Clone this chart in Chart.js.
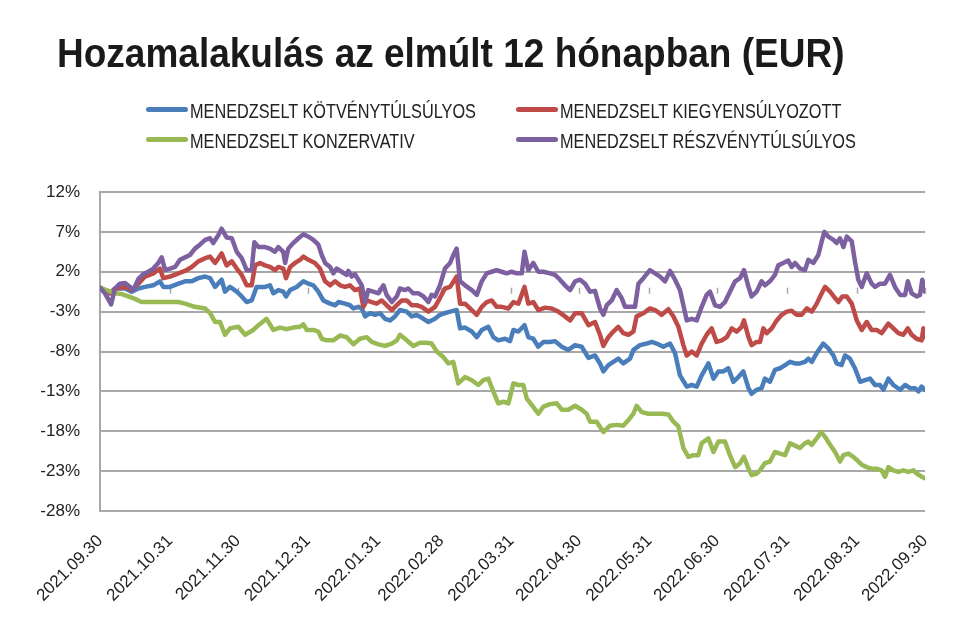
<!DOCTYPE html>
<html>
<head>
<meta charset="utf-8">
<script src="https://cdn.jsdelivr.net/npm/chart.js@4/dist/chart.umd.min.js"></script>
<style>
  html, body { margin: 0; padding: 0; background: #fff; }
  #wrap { position: relative; width: 980px; height: 626px; overflow: hidden; }
  #c { position: absolute; left: 0; top: 0; }
  #title { position: absolute; left: 57px; top: 36px; font: bold 37px 'Liberation Sans', Arial, sans-serif; line-height: 37px; color: #1a1a1a; white-space: nowrap; transform: scaleY(1.08); transform-origin: left bottom; }
  .lg { position: absolute; height: 20px; line-height: 20px; font: 19.5px 'Liberation Sans', Arial, sans-serif; color: #222; white-space: nowrap; }
  .lg .sw { position: absolute; left: 0; top: 7px; width: 42px; height: 5px; border-radius: 3px; }
  .lg .tx { position: absolute; left: 44px; top: 0; transform: scaleX(0.835); transform-origin: left center; }
</style>
</head>
<body>
<div id="wrap">
  <canvas id="c" width="980" height="626"></canvas>
  <div id="title">Hozamalakulás az elmúlt 12 hónapban (EUR)</div>
  <div id="legend"></div>
</div>
<script>
// ---- DATA ----
const seriesNames = [
  'MENEDZSELT KÖTVÉNYTÚLSÚLYOS',
  'MENEDZSELT KIEGYENSÚLYOZOTT',
  'MENEDZSELT KONZERVATIV',
  'MENEDZSELT RÉSZVÉNYTÚLSÚLYOS'
];
// x tick positions: days since 2021.09.30 for each month end
const monthEndDays = [0, 31, 61, 92, 123, 151, 182, 212, 243, 273, 304, 335, 365];
const monthLabels = ['2021.09.30','2021.10.31','2021.11.30','2021.12.31','2022.01.31','2022.02.28','2022.03.31','2022.04.30','2022.05.31','2022.06.30','2022.07.31','2022.08.31','2022.09.30'];
const yTicks = [-28, -23, -18, -13, -8, -3, 2, 7, 12];

// [day since 2021.09.30, return %]
const kotvenyPoints = [[0,0],[4.4,-0.7],[6.6,-0.1],[11.1,-0.1],[14.0,-0.5],[17.0,-0.1],[19.9,0.1],[23.6,0.3],[26.5,0.8],[28.0,0.1],[31.0,0.1],[34.7,0.5],[37.6,0.8],[40.6,0.8],[43.5,1.2],[46.5,1.4],[48.7,1.2],[50.9,0.1],[53.8,1.0],[55.3,-0.5],[57.5,0.1],[60.5,-0.5],[62.7,-1.1],[64.9,-1.8],[67.1,-1.6],[69.3,0.1],[73.0,0.1],[75.2,0.3],[76.7,-0.7],[78.9,-0.3],[81.1,-0.5],[82.3,-1.1],[84.1,-0.3],[87.0,0.1],[90.0,0.8],[92.2,0.5],[94.4,0.3],[96.6,-0.5],[98.8,-1.6],[101.8,-2.0],[104.0,-2.2],[105.5,-1.8],[108.4,-2.0],[110.6,-2.2],[112.1,-2.6],[114.3,-2.4],[115.8,-2.6],[117.3,-3.6],[119.5,-3.2],[121.7,-3.4],[123.9,-3.2],[126.1,-3.9],[128.3,-4.1],[130.5,-3.6],[132.7,-2.8],[135.7,-3.0],[137.9,-3.6],[140.1,-3.4],[143.1,-3.9],[145.3,-4.3],[148.2,-3.9],[150.4,-3.4],[152.6,-3.2],[154.9,-3.0],[157.8,-2.8],[159.3,-5.1],[161.5,-5.0],[164.5,-5.5],[166.7,-6.2],[168.9,-5.3],[171.8,-4.9],[174.0,-6.2],[176.2,-6.6],[179.2,-6.4],[181.4,-6.7],[182.9,-5.3],[185.1,-5.5],[187.8,-4.7],[189.5,-6.2],[191.7,-6.4],[193.9,-7.4],[196.2,-6.8],[199.1,-6.8],[201.3,-6.7],[204.3,-7.4],[207.2,-7.8],[210.2,-7.2],[213.1,-7.4],[216.1,-8.8],[219.0,-8.5],[221.2,-9.5],[222.7,-10.5],[224.9,-9.7],[227.1,-9.3],[229.3,-8.9],[231.5,-9.5],[234.5,-8.9],[236.0,-7.8],[238.9,-7.2],[241.9,-7.0],[244.1,-6.8],[246.3,-7.0],[249.2,-7.4],[252.2,-7.0],[254.4,-8.2],[256.6,-11.0],[259.6,-12.4],[261.8,-12.2],[264.0,-12.4],[266.2,-11.0],[269.2,-9.5],[271.4,-11.4],[273.6,-10.5],[275.8,-10.5],[278.0,-10.1],[280.2,-11.8],[282.4,-11.2],[284.6,-10.5],[286.9,-12.6],[288.3,-13.3],[290.5,-12.8],[292.7,-12.6],[294.2,-11.4],[296.4,-11.8],[298.6,-10.3],[300.9,-10.1],[303.1,-9.7],[305.3,-9.3],[307.5,-9.5],[309.7,-9.5],[311.9,-9.3],[313.4,-8.9],[314.9,-9.3],[317.1,-8.2],[320.0,-7.0],[322.2,-7.6],[324.5,-8.5],[325.9,-9.5],[328.1,-9.7],[329.6,-8.5],[331.8,-8.9],[334.0,-10.1],[336.3,-11.8],[338.5,-11.6],[340.7,-11.4],[342.9,-12.2],[345.1,-12.2],[346.6,-12.8],[348.8,-11.4],[351.0,-12.2],[354.0,-12.8],[356.2,-12.2],[358.4,-12.6],[360.6,-12.6],[362.1,-13.0],[363.5,-12.4],[365,-12.8]];

const kiegyensulyozottPoints = [[0,0],[4.4,-0.7],[6.6,-0.1],[11.1,0.1],[14.0,-0.3],[17.0,0.5],[19.9,1.4],[23.6,1.8],[26.5,2.4],[28.0,1.2],[31.0,1.4],[34.7,1.8],[37.6,2.1],[40.6,2.6],[43.5,3.3],[46.5,3.7],[48.7,3.9],[50.9,3.1],[53.8,4.3],[56.0,2.8],[58.3,3.3],[60.5,2.4],[62.7,1.6],[64.9,0.3],[67.1,0.3],[68.6,2.8],[70.8,3.1],[73.0,2.8],[75.2,2.6],[77.4,2.2],[78.9,2.6],[81.1,2.4],[82.3,1.2],[84.1,2.6],[86.3,3.1],[88.5,3.5],[90.0,3.9],[92.2,3.5],[95.1,3.1],[97.3,2.4],[99.6,0.8],[101.8,0.3],[104.0,0.8],[106.2,0.3],[108.4,0.1],[110.6,0.3],[112.8,-0.3],[115.0,-0.1],[116.5,-2.4],[118.0,-1.6],[120.2,-1.8],[122.4,-2.0],[124.6,-1.6],[126.8,-2.2],[129.1,-2.8],[131.3,-2.2],[133.5,-1.6],[135.7,-1.6],[137.9,-2.2],[140.1,-2.2],[142.3,-2.4],[145.3,-3.0],[148.2,-2.4],[150.4,-1.3],[152.6,-0.1],[154.9,0.1],[157.8,1.4],[159.3,-2.0],[161.5,-2.0],[164.5,-2.8],[166.7,-3.4],[168.9,-2.4],[171.1,-1.8],[173.3,-1.6],[175.5,-2.4],[177.7,-2.4],[180.7,-2.6],[182.9,-1.8],[185.1,-2.0],[187.8,0.1],[189.5,-2.0],[191.7,-1.8],[193.9,-2.8],[196.9,-2.5],[199.8,-2.6],[202.8,-3.0],[205.7,-3.6],[208.0,-4.1],[210.2,-3.2],[213.1,-3.2],[216.1,-4.7],[219.0,-4.3],[221.2,-5.9],[222.7,-7.3],[224.9,-6.2],[227.1,-5.5],[229.3,-4.9],[231.5,-5.7],[233.8,-5.9],[236.0,-5.5],[237.4,-3.6],[240.4,-3.2],[243.3,-2.6],[245.6,-2.8],[248.5,-3.4],[251.5,-2.7],[253.7,-3.6],[255.9,-4.9],[258.1,-7.2],[259.6,-8.5],[261.8,-8.0],[264.0,-8.5],[266.2,-7.0],[268.4,-5.9],[270.6,-5.1],[272.8,-6.8],[275.1,-6.6],[277.3,-6.2],[279.5,-5.1],[281.7,-5.5],[283.9,-4.9],[284.9,-4.1],[286.9,-6.2],[288.3,-7.2],[290.5,-6.8],[292.0,-6.8],[293.5,-5.1],[295.0,-5.7],[297.2,-5.1],[299.4,-4.1],[301.6,-3.4],[303.8,-3.0],[306.0,-2.9],[308.2,-3.4],[310.4,-3.4],[312.7,-2.6],[314.9,-3.0],[317.1,-2.0],[319.3,-0.7],[320.8,0.1],[323.0,-0.5],[325.2,-1.3],[326.7,-1.8],[328.4,-1.1],[330.4,-1.1],[332.6,-2.0],[334.8,-4.1],[337.0,-5.3],[339.2,-4.3],[341.4,-5.3],[343.6,-5.3],[345.8,-5.7],[348.8,-4.5],[351.0,-5.1],[353.2,-5.7],[355.4,-5.9],[357.4,-5.1],[359.1,-5.9],[361.3,-6.4],[363.5,-6.6],[364.3,-5.1],[365,-6.2]];

const konzervativPoints = [[0,0],[6.6,-0.7],[9.6,-0.8],[12.5,-1.1],[15.5,-1.4],[18.4,-1.8],[21.4,-1.8],[27.3,-1.8],[30.2,-1.8],[34.7,-1.8],[37.6,-2.0],[42.0,-2.4],[46.5,-2.6],[48.7,-3.2],[50.9,-4.3],[53.1,-4.3],[55.3,-5.9],[57.5,-5.1],[61.2,-4.9],[64.2,-5.9],[67.8,-5.3],[70.1,-4.7],[73.7,-3.9],[76.7,-5.3],[79.6,-5.0],[82.6,-5.2],[85.5,-5.0],[88.5,-4.9],[90.0,-4.6],[91.5,-5.3],[94.4,-5.3],[96.6,-5.5],[98.1,-6.4],[100.3,-6.6],[103.2,-6.6],[106.2,-6.0],[109.1,-6.2],[112.1,-7.1],[115.0,-6.4],[118.0,-6.2],[120.2,-6.8],[123.2,-7.1],[126.1,-7.3],[129.1,-7.0],[131.3,-6.6],[132.7,-5.9],[135.7,-6.6],[138.6,-7.3],[141.6,-6.9],[144.5,-6.9],[146.7,-7.0],[149.0,-8.0],[151.9,-8.7],[154.1,-9.5],[156.3,-9.3],[158.5,-12.0],[161.5,-11.2],[164.5,-11.6],[167.4,-12.2],[169.6,-11.6],[171.8,-11.4],[174.0,-13.0],[176.2,-14.5],[178.5,-14.3],[180.7,-14.5],[182.9,-12.0],[185.1,-12.2],[187.3,-12.2],[188.8,-13.9],[191.0,-14.7],[193.9,-15.8],[196.2,-14.9],[199.1,-14.6],[202.1,-14.5],[204.3,-15.3],[207.2,-15.3],[210.2,-14.8],[213.1,-15.3],[215.3,-15.8],[216.8,-16.8],[219.7,-16.8],[222.7,-18.1],[225.6,-17.3],[228.6,-17.2],[231.5,-17.3],[233.8,-16.6],[236.0,-15.8],[237.4,-14.8],[239.7,-15.6],[242.6,-15.8],[245.6,-15.8],[248.5,-15.8],[251.5,-15.9],[253.7,-16.8],[255.9,-17.4],[258.1,-20.1],[260.3,-21.2],[262.5,-21.0],[264.7,-21.0],[266.2,-19.5],[269.2,-18.9],[271.4,-20.6],[273.6,-19.3],[276.5,-19.3],[278.7,-21.0],[281.0,-22.5],[283.2,-22.0],[284.9,-21.2],[286.9,-22.7],[288.3,-23.5],[290.5,-23.3],[292.0,-22.9],[294.2,-22.0],[296.4,-21.8],[298.6,-20.6],[300.9,-20.8],[303.1,-21.0],[305.3,-19.5],[307.5,-19.8],[309.7,-20.1],[311.9,-19.5],[313.4,-19.3],[314.9,-19.7],[317.1,-18.9],[319.0,-18.1],[320.8,-18.7],[323.0,-19.7],[325.2,-20.6],[327.4,-21.8],[328.9,-21.0],[331.1,-20.8],[333.3,-21.2],[334.8,-21.6],[337.0,-22.2],[339.2,-22.5],[341.4,-22.7],[343.6,-22.7],[345.8,-22.9],[347.3,-23.7],[348.8,-22.5],[351.0,-22.9],[353.2,-23.1],[355.4,-22.9],[357.6,-23.1],[359.9,-22.9],[361.3,-23.3],[363.5,-23.7],[365,-23.9]];

const reszvenyPoints = [[0,0],[2.2,-0.7],[4.4,-1.8],[4.9,-2.1],[6.6,-0.1],[8.8,0.5],[11.1,0.6],[13.3,0.1],[14.7,-0.3],[17.0,1.1],[19.2,1.7],[21.4,2.0],[23.6,2.4],[25.8,3.1],[27.3,3.8],[28.8,2.2],[31.0,2.4],[33.2,2.6],[35.4,3.5],[37.6,3.8],[39.8,4.1],[42.0,4.9],[44.2,5.4],[46.5,6.0],[48.7,6.2],[50.1,5.6],[52.4,6.6],[53.8,7.4],[56.0,6.3],[58.3,6.2],[60.5,4.5],[62.7,3.7],[64.9,2.2],[67.1,2.2],[68.3,5.7],[70.1,5.1],[73.0,5.1],[75.2,4.9],[77.4,4.5],[78.9,5.1],[81.1,4.5],[81.9,3.1],[83.3,4.9],[85.5,5.6],[87.8,6.2],[90.0,6.7],[92.2,6.4],[94.4,6.0],[96.6,5.4],[98.1,4.1],[99.6,3.1],[101.8,2.6],[103.2,1.8],[104.7,2.4],[106.9,2.0],[109.1,1.6],[109.9,2.1],[111.4,1.4],[112.8,1.7],[114.3,1.0],[115.8,0.3],[117.3,-1.8],[118.7,-0.3],[120.9,-0.5],[123.2,-0.7],[125.4,0.3],[126.8,-0.9],[129.1,-1.8],[131.3,-1.1],[132.7,-0.1],[135.0,-0.3],[136.4,-0.1],[138.6,-0.7],[140.9,-0.7],[143.1,-1.1],[145.3,-1.8],[146.7,-0.9],[148.2,-1.1],[150.4,0.3],[152.6,2.4],[154.9,3.1],[156.3,4.1],[157.8,4.9],[159.3,0.8],[161.5,0.3],[164.5,-0.3],[166.7,-0.9],[168.9,0.8],[171.1,1.8],[173.3,2.0],[175.5,2.2],[177.7,2.0],[179.9,1.8],[182.1,2.0],[184.4,1.8],[186.6,1.8],[187.8,4.5],[189.5,2.2],[191.7,3.1],[193.9,2.0],[196.2,2.0],[199.1,1.8],[201.3,1.6],[203.5,1.0],[205.7,0.3],[208.0,-0.3],[210.2,0.8],[212.4,1.0],[214.6,0.5],[216.8,-0.5],[219.0,-0.4],[221.2,-2.6],[222.7,-3.4],[224.2,-2.2],[226.4,-1.6],[228.6,-0.3],[230.8,-1.3],[232.3,-2.4],[234.5,-2.4],[236.7,-2.4],[238.2,0.5],[240.4,1.2],[243.3,2.2],[245.6,1.8],[247.8,1.4],[250.0,0.8],[252.2,2.1],[254.4,1.0],[256.6,-0.3],[258.1,-2.2],[259.6,-4.1],[261.8,-3.9],[264.0,-4.1],[266.2,-2.4],[268.4,-0.9],[269.9,-0.5],[272.1,-2.2],[274.3,-2.4],[276.5,-1.8],[278.7,-0.5],[281.0,0.8],[283.2,1.2],[284.9,2.2],[286.9,0.1],[288.3,-1.1],[290.5,-0.5],[292.7,0.8],[294.2,0.3],[296.4,0.8],[298.6,1.6],[300.1,2.8],[302.3,3.1],[304.5,3.4],[306.0,2.6],[307.5,3.1],[309.7,2.4],[311.9,2.2],[313.4,3.5],[315.6,3.1],[317.8,4.1],[319.3,5.8],[320.5,7.0],[322.2,6.4],[324.5,6.0],[325.9,5.6],[327.4,6.2],[328.9,5.1],[330.4,6.4],[332.6,5.8],[334.0,3.3],[335.5,1.0],[337.0,0.1],[339.2,1.8],[341.4,0.5],[342.9,0.1],[345.1,0.5],[347.3,0.5],[349.5,1.6],[351.7,0.1],[354.0,-0.9],[356.2,-0.9],[357.4,0.8],[359.1,-0.7],[361.3,-1.1],[362.8,-0.9],[363.8,1.0],[365,-0.5]];

// ---- STYLE ----
const seriesColors = ['#4a7ebb', '#be4b48', '#98b954', '#7d60a0'];
const seriesPoints = [kotvenyPoints, kiegyensulyozottPoints, konzervativPoints, reszvenyPoints];
const drawOrder = [3, 2, 1, 0]; // later series drawn on top
const gridColor = '#a8a8a8';
const tickFont = { family: "'Liberation Sans', Arial, sans-serif", size: 17 };

// HTML legend (2 columns)
const legendPos = [[146, 100], [516, 100], [146, 130], [516, 130]];
const legendEl = document.getElementById('legend');
seriesNames.forEach((n, i) => {
  const d = document.createElement('div');
  d.className = 'lg';
  d.style.left = legendPos[i][0] + 'px';
  d.style.top = legendPos[i][1] + 'px';
  d.innerHTML = '<span class="sw" style="background:' + seriesColors[i] + '"></span><span class="tx"></span>';
  d.querySelector('.tx').textContent = n;
  legendEl.appendChild(d);
});

const zeroTicks = {
  id: 'zeroTicks',
  beforeDatasetsDraw(chart) {
    const { ctx, scales: { x, y } } = chart;
    const y0 = y.getPixelForValue(0);
    ctx.save();
    ctx.strokeStyle = gridColor;
    ctx.lineWidth = 1.5;
    monthEndDays.forEach(d => {
      const px = Math.round(x.getPixelForValue(d)) + 0.5;
      ctx.beginPath();
      ctx.moveTo(px, y0);
      ctx.lineTo(px, y0 + 6);
      ctx.stroke();
    });
    ctx.restore();
  }
};

new Chart(document.getElementById('c'), {
  type: 'line',
  data: {
    datasets: seriesNames.map((n, i) => ({
      label: n,
      data: seriesPoints[i].map(p => ({ x: p[0], y: p[1] })),
      borderColor: seriesColors[i],
      backgroundColor: seriesColors[i],
      borderWidth: 4.5,
      pointRadius: 0,
      tension: 0,
      borderJoinStyle: 'round',
      borderCapStyle: 'round',
      fill: false,
      order: drawOrder[i]
    }))
  },
  options: {
    responsive: false,
    animation: false,
    layout: { padding: { top: 192, right: 55, left: 0, bottom: 0 } },
    plugins: { legend: { display: false }, title: { display: false }, tooltip: { enabled: false } },
    scales: {
      x: {
        type: 'linear',
        min: 0, max: 365,
        grid: { display: false },
        border: { display: false },
        afterBuildTicks: s => { s.ticks = monthEndDays.map(v => ({ value: v })); },
        afterFit: s => { s.height = 115; },
        ticks: {
          autoSkip: false, maxRotation: 45, minRotation: 45,
          font: tickFont, color: '#222', padding: 12,
          callback: (v, i) => monthLabels[i]
        }
      },
      y: {
        min: -28, max: 12,
        afterBuildTicks: s => { s.ticks = yTicks.map(v => ({ value: v })); },
        afterFit: s => { s.width = 100; },
        grid: { color: gridColor, lineWidth: 2, drawTicks: false },
        border: { display: true, color: gridColor, width: 2 },
        ticks: { font: tickFont, color: '#222', padding: 20, callback: v => v + '%' }
      }
    }
  },
  plugins: [zeroTicks]
});
</script>
</body>
</html>
